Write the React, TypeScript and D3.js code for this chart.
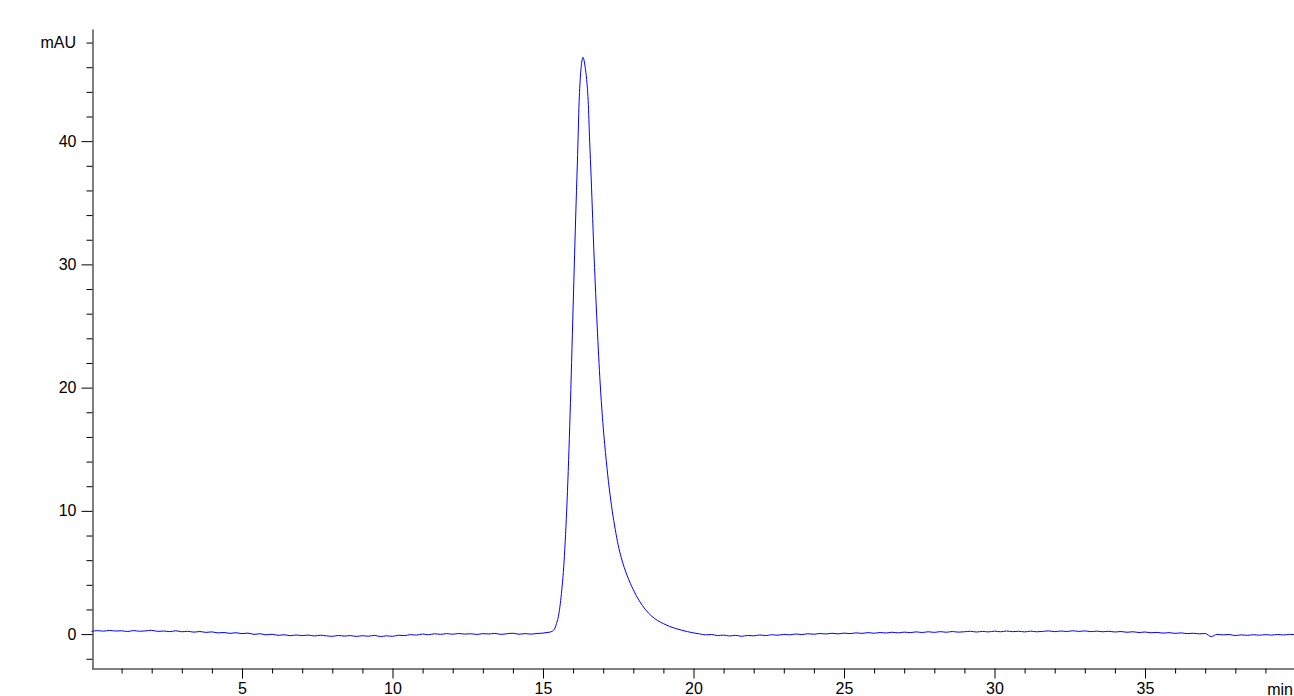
import React, { useEffect, useRef } from "react";
import * as d3 from "d3";

// Retention time (min) and absorbance (mAU)
const preTimes: number[] = [
  0.0, 0.2, 0.4, 0.6, 0.8, 1.0, 1.2, 1.4, 1.6, 1.8, 2.0, 2.2, 2.4, 2.6, 2.8, 3.0, 3.2, 3.4, 3.6, 3.8,
  4.0, 4.2, 4.4, 4.6, 4.8, 5.0, 5.2, 5.4, 5.6, 5.8, 6.0, 6.2, 6.4, 6.6, 6.8, 7.0, 7.2, 7.4, 7.6, 7.8,
  8.0, 8.2, 8.4, 8.6, 8.8, 9.0, 9.2, 9.4, 9.6, 9.8, 10.0, 10.2, 10.4, 10.6, 10.8, 11.0, 11.2, 11.4, 11.6, 11.8,
  12.0, 12.2, 12.4, 12.6, 12.8, 13.0, 13.2, 13.4, 13.6, 13.8, 14.0, 14.2, 14.4, 14.6, 14.8, 15.0,
];
const preValues: number[] = [
  0.22, 0.28, 0.24, 0.30, 0.25, 0.27, 0.21, 0.29, 0.23, 0.26, 0.31, 0.22, 0.25, 0.20, 0.27, 0.19, 0.23, 0.16, 0.21, 0.14,
  0.18, 0.10, 0.13, 0.06, 0.11, 0.04, 0.08, -0.02, 0.03, -0.06, -0.01, -0.10, -0.05, -0.13, -0.07, -0.12, -0.08, -0.15, -0.09, -0.14,
  -0.18, -0.11, -0.16, -0.12, -0.19, -0.13, -0.17, -0.10, -0.20, -0.14, -0.18, -0.09, -0.12, -0.04, -0.08, 0.01, -0.05, 0.03, -0.02, 0.04,
  -0.01, 0.05, 0.00, 0.03, -0.03, 0.04, 0.01, 0.06, -0.02, 0.03, 0.07, -0.01, 0.04, 0.00, 0.05, 0.08,
];

const peakTimes: number[] = [
  15.1, 15.2, 15.3, 15.4, 15.45, 15.5, 15.6, 15.7, 15.8, 15.9, 16.0, 16.1, 16.15, 16.2, 16.25, 16.3, 16.33, 16.36, 16.4,
  16.45, 16.5, 16.55, 16.6, 16.7, 16.8, 16.9, 17.0, 17.1, 17.2, 17.3, 17.4, 17.5, 17.6, 17.7, 17.8, 17.9, 18.0,
  18.1, 18.2, 18.3, 18.4, 18.5, 18.6, 18.7, 18.8, 18.9, 19.0, 19.2, 19.4, 19.6, 19.8, 20.0,
];
const peakValues: number[] = [
  0.12, 0.15, 0.22, 0.5, 0.87, 1.3, 3.0, 5.9, 10.8, 17.8, 26.5, 35.0, 38.9, 43.2, 45.5, 46.6, 46.8, 46.6, 46.0,
  45.0, 43.3, 40.0, 37.0, 30.5, 25.0, 20.3, 16.8, 14.1, 11.85, 10.0, 8.5, 7.2, 6.2, 5.4, 4.72, 4.12, 3.6,
  3.12, 2.7, 2.33, 2.0, 1.72, 1.48, 1.28, 1.11, 0.97, 0.85, 0.63, 0.46, 0.32, 0.2, 0.1,
];

const postTimes: number[] = [
  20.2, 20.4, 20.6, 20.8, 21.0, 21.2, 21.4, 21.6, 21.8, 22.0, 22.2, 22.4, 22.6, 22.8, 23.0, 23.2, 23.4, 23.6, 23.8, 24.0,
  24.2, 24.4, 24.6, 24.8, 25.0, 25.2, 25.4, 25.6, 25.8, 26.0, 26.2, 26.4, 26.6, 26.8, 27.0, 27.2, 27.4, 27.6, 27.8, 28.0,
  28.2, 28.4, 28.6, 28.8, 29.0, 29.2, 29.4, 29.6, 29.8, 30.0, 30.2, 30.4, 30.6, 30.8, 31.0, 31.2, 31.4, 31.6, 31.8, 32.0,
  32.2, 32.4, 32.6, 32.8, 33.0, 33.2, 33.4, 33.6, 33.8, 34.0, 34.2, 34.4, 34.6, 34.8, 35.0, 35.2, 35.4, 35.6, 35.8, 36.0,
  36.2, 36.4, 36.6, 36.8, 37.0, 37.2, 37.4, 37.6, 37.8, 38.0, 38.2, 38.4, 38.6, 38.8, 39.0, 39.2, 39.4, 39.6, 39.8, 40.0,
];
const postValues: number[] = [
  0.02, -0.06, -0.03, -0.12, -0.08, -0.15, -0.10, -0.18, -0.11, -0.14, -0.07, -0.12, -0.05, -0.09, -0.02, -0.06, 0.01, -0.04, 0.03, -0.01,
  0.05, 0.01, 0.07, 0.02, 0.08, 0.04, 0.10, 0.06, 0.12, 0.07, 0.13, 0.09, 0.15, 0.10, 0.16, 0.12, 0.18, 0.13, 0.19, 0.14,
  0.20, 0.15, 0.21, 0.16, 0.19, 0.23, 0.17, 0.22, 0.18, 0.24, 0.19, 0.25, 0.20, 0.23, 0.18, 0.24, 0.19, 0.22, 0.26, 0.20,
  0.25, 0.21, 0.27, 0.22, 0.26, 0.20, 0.24, 0.19, 0.23, 0.17, 0.21, 0.15, 0.19, 0.13, 0.17, 0.11, 0.14, 0.08, 0.12, 0.06,
  0.10, 0.04, 0.07, 0.02, 0.05, -0.20, -0.02, -0.06, -0.03, -0.12, -0.06, -0.10, -0.05, -0.09, -0.04, -0.08, -0.03, -0.07, -0.02, -0.05,
];

const xMajorTicks: number[] = [5, 10, 15, 20, 25, 30, 35];
const yMajorTicks: number[] = [0, 10, 20, 30, 40];
const xUnitLabel = "min";
const yUnitLabel = "mAU";

const W = 1294;
const H = 696;

export default function App() {
  const gRef = useRef<SVGGElement | null>(null);

  useEffect(() => {
    const g = d3.select(gRef.current);
    g.selectAll("*").remove();

    const x = d3.scaleLinear().domain([0, 40]).range([91.5, 1295.5]);
    const y = d3.scaleLinear().domain([-2.75, 49.1]).range([668, 29]);

    const times = [...preTimes, ...peakTimes, ...postTimes];
    const values = [...preValues, ...peakValues, ...postValues];
    const data = times.map((t, i) => [t, values[i]] as [number, number]);

    const font = "'Liberation Sans', Arial, sans-serif";

    // X axis
    const xMinor = d3.range(1, 40).filter((v) => v % 5 !== 0);
    const xAxisG = g.append("g").attr("transform", `translate(0,668.5)`);
    xAxisG.call(
      d3.axisBottom(x).tickValues(xMinor).tickSize(5).tickSizeOuter(0).tickFormat(() => "")
    );
    const xMajG = g.append("g").attr("transform", `translate(0,668.5)`);
    xMajG.call(
      d3.axisBottom(x).tickValues(xMajorTicks).tickSize(10).tickSizeOuter(0).tickPadding(4).tickFormat(d3.format("d"))
    );
    xMajG.select(".domain").remove();
    xMajG.selectAll("text").attr("font-size", 16).attr("font-family", font).attr("fill", "#000");
    g.append("text")
      .attr("x", W - 1)
      .attr("y", 694.5)
      .attr("text-anchor", "end")
      .attr("font-size", 16)
      .attr("font-family", font)
      .attr("fill", "#000")
      .text(xUnitLabel);

    // Y axis
    const yMinor = d3.range(-2, 50, 2).filter((v) => v % 10 !== 0);
    const yAxisG = g.append("g").attr("transform", `translate(92.5,0)`);
    yAxisG.call(
      d3.axisLeft(y).tickValues(yMinor).tickSize(6).tickSizeOuter(0).tickFormat(() => "")
    );
    const yMajG = g.append("g").attr("transform", `translate(92.5,0)`);
    yMajG.call(
      d3.axisLeft(y).tickValues(yMajorTicks).tickSize(11).tickSizeOuter(0).tickPadding(5).tickFormat(d3.format("d"))
    );
    yMajG.select(".domain").remove();
    yMajG.selectAll("text").attr("font-size", 16).attr("font-family", font).attr("fill", "#000");
    g.append("text")
      .attr("x", 76)
      .attr("y", y(48))
      .attr("dy", "0.32em")
      .attr("text-anchor", "end")
      .attr("font-size", 16)
      .attr("font-family", font)
      .attr("fill", "#000")
      .text(yUnitLabel);

    g.selectAll(".domain").attr("stroke", "#000");
    g.selectAll(".tick line").attr("stroke", "#000");

    // Trace
    const line = d3
      .line<[number, number]>()
      .x((d) => x(d[0]))
      .y((d) => y(d[1]))
      .curve(d3.curveMonotoneX);
    g.append("path")
      .datum(data)
      .attr("d", line)
      .attr("fill", "none")
      .attr("stroke", "#0000ff")
      .attr("stroke-width", 1);
  }, []);

  return (
    <div style={{ position: "absolute", left: 0, top: 0, width: W, height: H, background: "#fff" }}>
      <svg width={W} height={H} style={{ display: "block" }}>
        <g ref={gRef} />
      </svg>
    </div>
  );
}
